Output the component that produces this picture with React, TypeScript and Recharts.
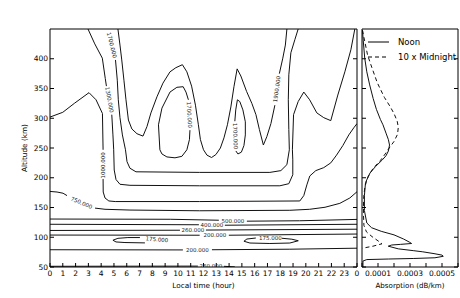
import React from 'react';
import { ComposedChart, Line, XAxis, YAxis, Scatter, Legend } from 'recharts';

const FONT = '"DejaVu Sans", Verdana, sans-serif';

// ---------- axes ----------
const hourTicks = [0, 1, 2, 3, 4, 5, 6, 7, 8, 9, 10, 11, 12, 13, 14, 15, 16, 17, 18, 19, 20, 21, 22, 23, 24];
const altTicks = [50, 100, 150, 200, 250, 300, 350, 400];
const absTicks = [0, 0.0001, 0.0002, 0.0003, 0.0004, 0.0005, 0.0006];
const absLabeledTicks = [0.0001, 0.0003, 0.0005];

// ---------- contour lines: [local time (h), altitude (km)], null = break for inline label ----------
type Pt = [number, number] | null;

const contour1000: Pt[] = [
  [0, 302], [1.0, 310], [1.9, 325], [3.05, 343], [3.6, 331], [4.1, 308], [4.15, 247], null,
  [4.15, 198], [4.16, 176], [4.3, 166], [4.6, 161], [5.1, 160], [11.7, 160], [19.53, 161], [19.84, 170],
  [20.08, 188], [20.31, 203], [20.78, 212], [21.4, 217], [21.95, 225], [22.4, 238], [22.89, 254],
  [23.36, 272], [23.75, 284], [24, 291],
];
const contour1300: Pt[] = [
  [2.97, 450], [3.5, 425], [4.09, 401], [4.32, 367], [4.41, 354], null,
  [4.83, 306], [4.92, 272], [4.98, 247], [5.02, 213], [5.16, 197], [5.47, 189], [6.25, 187.3],
  [11.7, 186.5], [17.97, 186.5], [18.67, 190], [18.98, 205], [18.98, 230], [18.95, 247], [19.04, 306],
  [19.4, 328], [19.84, 344], [20.3, 331], [20.86, 309], [21.4, 301], [21.95, 296], [22.5, 339],
  [23.05, 378], [23.52, 415], [23.83, 450],
];
const contour1700: Pt[] = [
  [5.12, 398], [5.26, 364], [5.34, 331], [5.47, 301], [5.66, 272], [5.9, 247], [6.02, 227], [6.25, 216],
  [6.72, 210], [11.7, 209], [17.19, 209], [18.05, 212], [18.52, 222], [18.71, 247], [18.67, 281],
  [18.63, 331], [18.67, 373], [18.83, 410], [19.14, 432], [19.4, 450],
];
const contour1900: Pt[] = [
  [5.31, 450], [5.47, 423], [5.61, 398], [5.78, 364], [5.94, 331], [6.13, 297], [6.4, 282], [6.8, 274],
  [7.27, 270], [7.58, 286], [7.89, 309], [8.36, 336], [8.83, 359], [9.38, 378], [9.84, 385], [10.35, 390],
  [10.7, 378], [11.07, 354], [11.37, 322], [11.6, 289], [11.76, 264], [12.0, 247], [12.27, 238],
  [12.63, 234], [12.97, 239], [13.32, 250], [13.6, 267], [13.87, 289], [14.14, 319], [14.38, 353],
  [14.63, 383], [14.92, 371], [15.37, 345], [15.78, 325], [16.1, 306], [16.37, 281], [16.68, 255],
  [16.95, 269], [17.27, 291], [17.58, 322], null, [17.93, 375], [18.2, 401], [18.4, 423], [18.52, 450],
];
const contour1700Left: Pt[] = [
  [10.82, 331], [10.63, 344], [10.41, 353], [9.92, 352], [9.38, 344], [8.75, 317], [8.48, 289],
  [8.59, 247], [8.75, 240], [9.14, 235], [9.77, 233.5], [10.31, 236], [10.7, 247], [10.9, 264], [10.94, 280],
];
const contour1700Right: Pt[] = [
  [14.45, 295], [14.52, 314], [14.65, 331], [14.84, 328], [15.08, 314], [15.27, 294], [15.27, 272],
  [15.16, 254], [14.96, 243], [14.69, 240], [14.53, 245],
];
const contour750: Pt[] = [
  [0, 177], [0.55, 176], [1.02, 174], [1.33, 170], null,
  [3.52, 149], [4.3, 147], [6.25, 145.7], [11.7, 144.5], [18.75, 145.3], [20.3, 147], [21.5, 150.4],
  [22.66, 157], [23.44, 166], [24, 176.5],
];
const contour500: Pt[] = [[0, 130.6], [9.4, 130.2], [13.2, 128.6], null, [15.39, 127], [19.5, 127.7], [24, 130]];
const contour400: Pt[] = [[0, 121.8], [11.64, 121], null, [13.67, 120.2], [24, 121.8]];
const contour260: Pt[] = [[0, 111.4], [10.16, 111.8], null, [12.19, 112.1], [24, 113.5]];
const contour200: Pt[] = [[0, 103.7], [11.7, 103.4], null, [13.98, 103.4], [24, 105.4]];
const contour175Left: Pt[] = [[7.03, 99.5], [6.09, 99.5], [5.31, 98.2], [4.92, 95], [5.16, 92.1], [5.86, 91.1], [7.42, 90.5]];
const contour175Right: Pt[] = [
  [18.13, 98.3], [18.91, 96.7], [19.41, 94.1], [18.75, 90.3], [17.19, 89.5], [15.63, 90.3], [15.16, 93.3],
  [15.39, 97], [16.09, 98.7],
];
const contour200Low: Pt[] = [[0, 79], [10.39, 78.7], null, [12.66, 79], [18.75, 79.9], [24, 81.6]];
const contour260Low: Pt[] = [[0, 51.2], [11.56, 51.5], null, [13.6, 51.2], [14.45, 50.2]];

const contourLines: Pt[][] = [
  contour1000, contour1300, contour1700, contour1900, contour1700Left, contour1700Right, contour750,
  contour500, contour400, contour260, contour200, contour175Left, contour175Right, contour200Low, contour260Low,
];

// ---------- inline contour labels ----------
const labelLevels = [1000, 1300, 1700, 1900, 1700, 1700, 750, 500, 400, 260, 200, 175, 175, 200, 260];
const labelTimes = [4.15, 4.65, 4.84, 17.73, 10.9, 14.49, 2.46, 14.3, 12.66, 11.17, 12.89, 8.36, 17.23, 11.52, 12.58];
const labelAlts = [221, 331, 423, 349, 306, 270, 158, 128, 120.5, 112, 103.5, 96.5, 98.3, 79, 52];
const labelAngles = [-90, 80, 76, -82, 87, 88, 23, 0, 0, 0, 0, 5, 0, 0, 0];

// ---------- absorption profiles: [absorption x 1e-4 dB/km, altitude km] ----------
const noonAbsE4: [number, number][] = [
  [0.03, 448], [0.08, 430], [0.17, 401], [0.3, 378], [0.48, 356], [0.7, 333], [0.9, 315], [1.15, 298],
  [1.31, 289], [1.5, 275], [1.65, 264], [1.72, 255], [1.65, 245], [1.5, 237], [1.27, 230], [0.85, 219],
  [0.5, 208], [0.22, 192], [0.15, 170], [0.15, 145], [0.3, 124], [0.6, 116], [1.2, 110], [2.0, 104],
  [2.6, 97], [2.95, 92], [3.1, 89.5], [2.4, 88], [1.86, 87], [1.64, 85], [2.27, 80.5], [3.2, 77.5],
  [3.8, 75.5], [4.5, 72.5], [5.0, 70], [5.08, 68], [4.56, 65.5], [3.2, 64.3], [1.64, 63.4], [0.3, 62.5],
  [0.06, 60], [0.06, 50],
];
const midnightAbsE4: [number, number][] = [
  [0.03, 448], [0.12, 436], [0.35, 406], [0.62, 385], [0.95, 360], [1.4, 335], [1.75, 320], [2.0, 308],
  [2.2, 295], [2.27, 285], [2.22, 273], [2.0, 261], [1.7, 250], [1.45, 240], [1.15, 229], [0.7, 216],
  [0.38, 202], [0.18, 185], [0.1, 165], [0.09, 140], [0.12, 120], [0.28, 109], [0.63, 101], [1.0, 94],
  [1.25, 89], [0.69, 85], [0.19, 82.4], [0.02, 81.6],
];

const legendItems = [
  { name: 'Noon', dash: undefined as string | undefined },
  { name: '10 x Midnight', dash: '4 3' },
];

// ---------- helpers ----------
function toSeries(pts: Pt[]) {
  const out: { t: number; a: number | null }[] = [];
  let lastT = 0;
  pts.forEach((p) => {
    if (p === null) out.push({ t: lastT, a: null });
    else {
      out.push({ t: p[0], a: p[1] });
      lastT = p[0];
    }
  });
  return out;
}

const labelData = labelLevels.map((lv, i) => ({
  t: labelTimes[i],
  a: labelAlts[i],
  text: lv.toFixed(3),
  rot: labelAngles[i],
}));

const noonData = noonAbsE4.map(([v, a]) => ({ v: v * 1e-4, a }));
const midnightData = midnightAbsE4.map(([v, a]) => ({ v: v * 1e-4, a }));

const renderContourLabel = (props: any) => {
  const { cx, cy, payload } = props;
  if (cx == null || cy == null) return <g />;
  return (
    <text
      x={cx}
      y={cy}
      transform={`rotate(${payload.rot} ${cx} ${cy})`}
      textAnchor="middle"
      dominantBaseline="central"
      fontSize={5.5}
      fontFamily={FONT}
      fill="#222"
    >
      {payload.text}
    </text>
  );
};

const tickStyle = { fontSize: 7.5, fill: '#000', fontFamily: FONT };
const emptyFmt = () => '';

function MainChart() {
  return (
    <ComposedChart width={360} height={298} margin={{ top: 0, right: 0, bottom: 0, left: 0 }}>
      <XAxis
        xAxisId="x"
        type="number"
        dataKey="t"
        domain={[0, 24]}
        ticks={hourTicks}
        interval={0}
        allowDataOverflow
        height={31}
        tickSize={-4}
        tickMargin={8}
        stroke="#000"
        tick={tickStyle}
        tickFormatter={(v: number) => String(v % 24)}
        label={{ value: 'Local time (hour)', position: 'insideBottom', offset: 10, fontSize: 7.3, fill: '#000', fontFamily: FONT }}
      />
      <XAxis
        xAxisId="xt"
        orientation="top"
        type="number"
        domain={[0, 24]}
        ticks={hourTicks}
        interval={0}
        allowDataOverflow
        height={29}
        tickSize={-4}
        stroke="#000"
        tickFormatter={emptyFmt}
      />
      <YAxis
        yAxisId="y"
        type="number"
        dataKey="a"
        domain={[50, 450]}
        ticks={altTicks}
        interval={0}
        allowDataOverflow
        width={50}
        tickSize={-4}
        tickMargin={6}
        stroke="#000"
        tick={tickStyle}
        label={{ value: 'Altitude (km)', angle: -90, position: 'center', dx: -0.5, fontSize: 7.3, fill: '#000', fontFamily: FONT }}
      />
      <YAxis
        yAxisId="yr"
        orientation="right"
        type="number"
        domain={[50, 450]}
        ticks={altTicks}
        interval={0}
        allowDataOverflow
        width={3}
        tickSize={-4}
        stroke="#000"
        tickFormatter={emptyFmt}
      />
      {contourLines.map((c, i) => (
        <Line
          key={i}
          xAxisId="x"
          yAxisId="y"
          data={toSeries(c)}
          dataKey="a"
          type="linear"
          stroke="#111"
          strokeWidth={1}
          dot={false}
          activeDot={false}
          connectNulls={false}
          isAnimationActive={false}
          legendType="none"
        />
      ))}
      <Scatter
        xAxisId="x"
        yAxisId="y"
        data={labelData}
        dataKey="a"
        isAnimationActive={false}
        shape={renderContourLabel}
        legendType="none"
      />
    </ComposedChart>
  );
}

const renderLegend = () => (
  <div style={{ fontFamily: FONT, fontSize: 8.5, color: '#000' }}>
    {legendItems.map((item) => (
      <div key={item.name} style={{ display: 'flex', alignItems: 'center', height: 15, whiteSpace: 'nowrap' }}>
        <svg width={22} height={6} style={{ display: 'block' }}>
          <line x1={0} y1={3} x2={21} y2={3} stroke="#000" strokeWidth={1} strokeDasharray={item.dash} />
        </svg>
        <span style={{ marginLeft: 8 }}>{item.name}</span>
      </div>
    ))}
  </div>
);

function SideChart() {
  return (
    <ComposedChart width={100} height={298} margin={{ top: 0, right: 0, bottom: 0, left: 0 }}>
      <XAxis
        xAxisId="v"
        type="number"
        dataKey="v"
        domain={[0, 0.0006]}
        ticks={absTicks}
        interval={0}
        allowDataOverflow
        height={31}
        tickSize={-4}
        tickMargin={8}
        stroke="#000"
        tick={tickStyle}
        tickFormatter={(v: number) => (absLabeledTicks.some((l) => Math.abs(l - v) < 1e-9) ? v.toFixed(4) : '')}
        label={{ value: 'Absorption (dB/km)', position: 'insideBottom', offset: 10, fontSize: 7.1, fill: '#000', fontFamily: FONT }}
      />
      <XAxis
        xAxisId="vt"
        orientation="top"
        type="number"
        domain={[0, 0.0006]}
        ticks={absTicks}
        interval={0}
        allowDataOverflow
        height={29}
        tickSize={-4}
        stroke="#000"
        tickFormatter={emptyFmt}
      />
      <YAxis
        yAxisId="a"
        type="number"
        dataKey="a"
        domain={[50, 450]}
        ticks={altTicks}
        interval={0}
        allowDataOverflow
        width={2}
        tickSize={-4}
        stroke="#000"
        tickFormatter={emptyFmt}
      />
      <YAxis
        yAxisId="ar"
        orientation="right"
        type="number"
        domain={[50, 450]}
        ticks={altTicks}
        interval={0}
        allowDataOverflow
        width={2}
        tickSize={-4}
        stroke="#000"
        tickFormatter={emptyFmt}
      />
      <Line
        xAxisId="v"
        yAxisId="a"
        data={noonData}
        dataKey="a"
        name="Noon"
        type="linear"
        stroke="#111"
        strokeWidth={1}
        dot={false}
        activeDot={false}
        isAnimationActive={false}
      />
      <Line
        xAxisId="v"
        yAxisId="a"
        data={midnightData}
        dataKey="a"
        name="10 x Midnight"
        type="linear"
        stroke="#111"
        strokeWidth={1}
        strokeDasharray="4 3"
        dot={false}
        activeDot={false}
        isAnimationActive={false}
      />
      <Legend
        layout="vertical"
        align="center"
        verticalAlign="middle"
        content={renderLegend}
        wrapperStyle={{ left: 8, top: 34.5, width: 'auto', height: 'auto' }}
      />
    </ComposedChart>
  );
}

export default function App() {
  return (
    <div style={{ position: 'absolute', left: 0, top: 0, width: 460, height: 298, background: '#fff', overflow: 'hidden' }}>
      <div style={{ position: 'absolute', left: 0, top: 0 }}>
        <MainChart />
      </div>
      <div style={{ position: 'absolute', left: 360, top: 0 }}>
        <SideChart />
      </div>
    </div>
  );
}
